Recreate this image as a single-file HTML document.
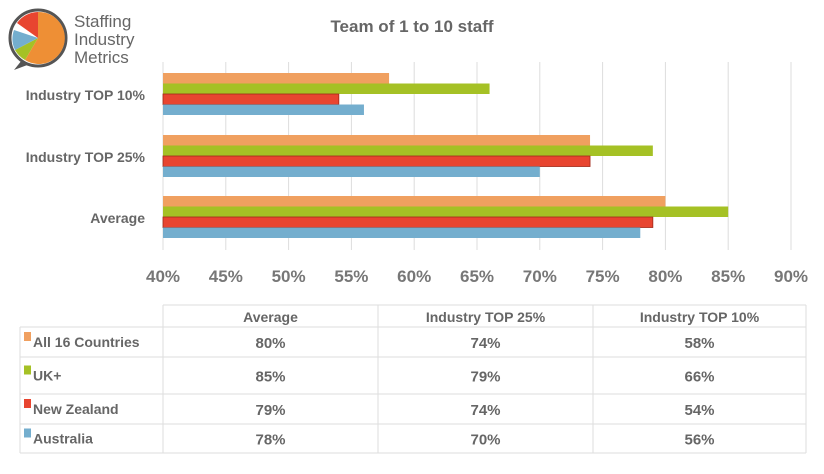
<!DOCTYPE html>
<html><head><meta charset="utf-8"><style>
body{margin:0;background:#fff;width:824px;height:469px;overflow:hidden;font-family:"Liberation Sans",sans-serif;}
svg text{font-family:"Liberation Sans",sans-serif;}
</style></head><body>
<svg width="824" height="469">
<g>
<circle cx="38" cy="38" r="28" fill="#fff" stroke="#555" stroke-width="3"/>
<path d="M22,60 L14,70 L30,64Z" fill="#555"/>
<path d="M38,38 L38,12 A26,26 0 1 1 25,60 Z" fill="#ee8f35"/>
<path d="M38,38 L25,60 A26,26 0 0 1 15,50 Z" fill="#a5c125"/>
<path d="M38,38 L15,50 A26,26 0 0 1 14,30 Z" fill="#74aece"/>
<path d="M38,38 L17,23 A26,26 0 0 1 38,12 Z" fill="#e84530"/>
<text x="74" y="27" font-size="17" fill="#666">Staffing</text>
<text x="74" y="45" font-size="17" fill="#666">Industry</text>
<text x="74" y="63" font-size="17" fill="#666">Metrics</text>
</g>
<text x="412" y="32" font-size="17" font-weight="bold" fill="#666" text-anchor="middle">Team of 1 to 10 staff</text>
<g id="grid"></g><g id="bars"></g><g id="labels"></g>
<g id="table"></g>
</svg>
<script>
const categories=["Average","Industry TOP 25%","Industry TOP 10%"];
const series=["All 16 Countries","UK+","New Zealand","Australia"];
const colors=["#f0a060","#a5c125","#e84530","#74aece"];
const allCountries=[80,74,58];
const ukPlus=[85,79,66];
const newZealand=[79,74,54];
const australia=[78,70,56];
const ticks=[40,45,50,55,60,65,70,75,80,85,90];
const vals=[allCountries,ukPlus,newZealand,australia];
const NS="http://www.w3.org/2000/svg";
function mk(t,a,p){const e=document.createElementNS(NS,t);for(const k in a)e.setAttribute(k,a[k]);p.appendChild(e);return e;}
const x=v=>163+(v-40)*(791-163)/50;
const grpTop=[196,135,73];
const g=document.getElementById('grid'),b=document.getElementById('bars'),l=document.getElementById('labels');
ticks.forEach(t=>{
const ln=mk('line',{x1:x(t),x2:x(t),y1:62,y2:250,stroke:'#ddd','stroke-width':1},g);


const tx=mk('text',{x:x(t),y:282,'font-size':17,'font-weight':'bold',fill:'#777','text-anchor':'middle'},l);
tx.textContent=t+'%';


});
categories.forEach((c,ci)=>{
const tx=mk('text',{x:145,y:grpTop[ci]+27,'font-size':14,'font-weight':'bold',fill:'#666','text-anchor':'end'},l);
tx.textContent=c;


vals.forEach((s,si)=>{
const r=mk('rect',{x:x(40),y:grpTop[ci]+si*10.5,width:x(s[ci])-x(40),height:10.5,fill:colors[si]},b);
if(si==2){r.setAttribute('stroke','#a02818');r.setAttribute('stroke-width','0.8');}


});
});
// table
const T=document.getElementById('table');
const cols=[20,163,378,593,806],rows=[305,327,357,394,424,453];
rows.forEach((y,i)=>{const ln=mk('line',{x1:i==0?163:20,x2:806,y1:y,y2:y,stroke:'#ddd'},T);});
cols.forEach((cx,i)=>{mk('line',{x1:cx,x2:cx,y1:i==0?327:305,y2:453,stroke:'#ddd'},T);});
const hdr=["Average","Industry TOP 25%","Industry TOP 10%"];
hdr.forEach((h,i)=>{const t=mk('text',{x:(cols[i+1]+cols[i+2])/2,y:322,'font-size':14,'font-weight':'bold',fill:'#666','text-anchor':'middle'},T);t.textContent=h;

});
const order=[0,2,1];// Average, TOP25, TOP10 indices into categories
series.forEach((s,si)=>{
const cy=(rows[si+1]+rows[si+2])/2;
mk('rect',{x:24,y:cy-10,width:7,height:9,fill:colors[si]},T);
const t=mk('text',{x:33,y:cy+5,'font-size':14,'font-weight':'bold',fill:'#666'},T);t.textContent=s;


[0,1,2].forEach(j=>{const v=mk('text',{x:(cols[j+1]+cols[j+2])/2,y:cy+6,'font-size':15,'font-weight':'bold',fill:'#666','text-anchor':'middle'},T);v.textContent=vals[si][j]+'%';

});
});
</script>
</body></html>
